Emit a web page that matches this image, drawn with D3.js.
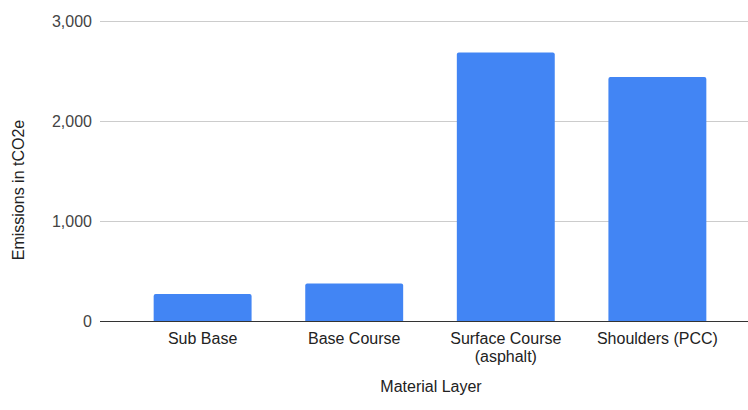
<!DOCTYPE html>
<html>
<head>
<meta charset="utf-8">
<script src="https://cdn.jsdelivr.net/npm/d3@7"></script>
<style>
  html, body { margin: 0; padding: 0; background: #fff; }
  svg { display: block; }
  text { font-family: "Liberation Sans", Arial, sans-serif; }
</style>
</head>
<body>
<svg id="chart" width="748" height="410"></svg>
<script>
// Emissions per material layer (tCO2e)
const categories = [["Sub Base"], ["Base Course"], ["Surface Course", "(asphalt)"], ["Shoulders (PCC)"]];
const emissions = [270, 375, 2685, 2440];
const yTicks = [0, 1000, 2000, 3000];
const yTitle = "Emissions in tCO2e";
const xTitle = "Material Layer";

const svg = d3.select("#chart");
const plot = { left: 100, right: 760, top: 21, bottom: 321 };

const keys = categories.map(c => c.join(" "));
const x = d3.scaleBand()
  .domain(keys)
  .range([plot.left, plot.right])
  .padding(0.354);

const y = d3.scaleLinear()
  .domain([0, 3000])
  .range([plot.bottom, plot.top]);

// gridlines and value labels
const yAxis = d3.axisLeft(y)
  .tickValues(yTicks)
  .tickFormat(d3.format(","))
  .tickSize(-(plot.right - plot.left))
  .tickPadding(8);

const gy = svg.append("g")
  .attr("transform", `translate(${plot.left},0)`)
  .call(yAxis);
gy.select(".domain").remove();
gy.selectAll(".tick line").attr("stroke", "#cccccc").attr("stroke-width", 1);
gy.selectAll(".tick text")
  .attr("fill", "#444")
  .attr("font-size", 16)
  .attr("font-family", "'Liberation Sans', Arial, sans-serif");

// bars
svg.append("g")
  .selectAll("path")
  .data(emissions)
  .join("path")
  .attr("fill", "#4285f4")
  .attr("d", (v, i) => {
    const x0 = x(keys[i]), w = x.bandwidth();
    const y0 = y(v), y1 = y(0), r = 2;
    return `M${x0},${y1}V${y0 + r}Q${x0},${y0} ${x0 + r},${y0}H${x0 + w - r}Q${x0 + w},${y0} ${x0 + w},${y0 + r}V${y1}Z`;
  });

// baseline
svg.append("line")
  .attr("x1", plot.left).attr("x2", plot.right)
  .attr("y1", y(0) + 0.5).attr("y2", y(0) + 0.5)
  .attr("stroke", "#333").attr("stroke-width", 1);

// category labels
const xl = svg.append("g")
  .selectAll("text")
  .data(categories)
  .join("text")
  .attr("x", (c, i) => x(keys[i]) + x.bandwidth() / 2)
  .attr("y", 344)
  .attr("text-anchor", "middle")
  .attr("font-size", 16)
  .attr("fill", "#222");
xl.selectAll("tspan")
  .data(c => c)
  .join("tspan")
  .attr("x", function () { return d3.select(this.parentNode).attr("x"); })
  .attr("dy", (d, j) => j === 0 ? 0 : 18)
  .text(d => d);

// axis titles
svg.append("text")
  .attr("x", 431).attr("y", 392)
  .attr("text-anchor", "middle")
  .attr("font-size", 16)
  .attr("fill", "#222")
  .text(xTitle);

svg.append("text")
  .attr("transform", "translate(24,190) rotate(-90)")
  .attr("text-anchor", "middle")
  .attr("font-size", 16)
  .attr("fill", "#222")
  .text(yTitle);
</script>
</body>
</html>
